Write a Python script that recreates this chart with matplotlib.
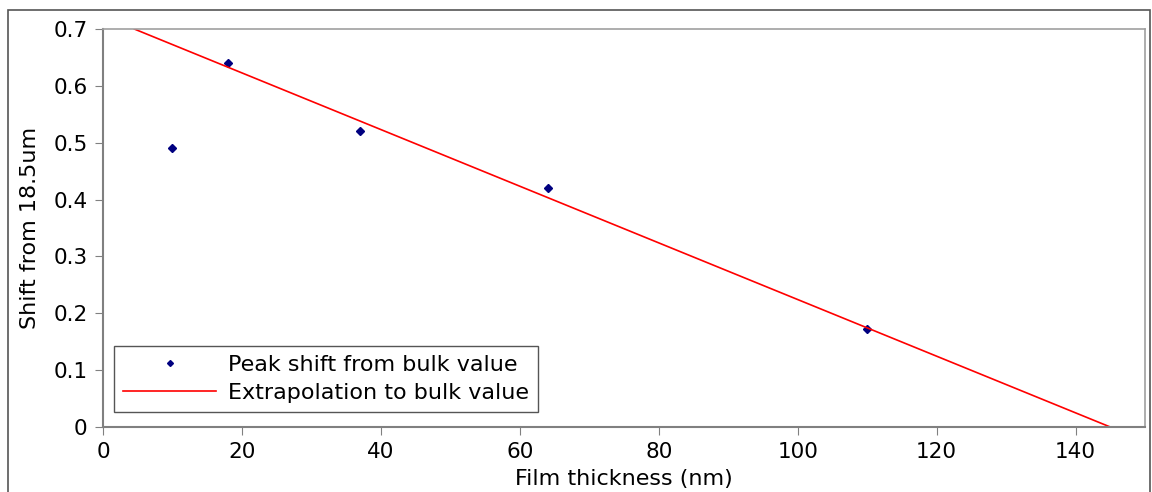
import matplotlib
matplotlib.use("Agg")
import matplotlib.pyplot as plt
from matplotlib.patches import Rectangle

# measured peak shift
thickness = [10, 18, 37, 64, 110]
shift = [0.49, 0.64, 0.52, 0.42, 0.172]

# extrapolation line end points
fit_x = [4.5, 145]
fit_y = [0.70, 0.0]

plt.rcParams['font.family'] = 'DejaVu Sans'

fig = plt.figure(figsize=(11.52, 4.92), dpi=100)
ax = fig.add_axes([103/1152, 1 - 427/492, (1145-103)/1152, (427-29)/492])

# outer frame of the figure
fig.patches.append(Rectangle((8/1152, -0.05), (1150-8)/1152, 1 - 10/492 + 0.05,
                             transform=fig.transFigure, fill=False,
                             edgecolor='#555555', linewidth=1.2))

ax.plot(thickness, shift, linestyle='none', marker='D', markersize=4,
        color='#000080', label='Peak shift from bulk value')
ax.plot(fit_x, fit_y, color='#ff0000', linewidth=1.2,
        label='Extrapolation to bulk value')

ax.set_xlim(0, 150)
ax.set_ylim(0, 0.7)
ax.set_xticks(range(0, 141, 20))
ax.set_yticks([0, 0.1, 0.2, 0.3, 0.4, 0.5, 0.6, 0.7])
ax.set_yticklabels(['0', '0.1', '0.2', '0.3', '0.4', '0.5', '0.6', '0.7'])

for s in ['left', 'bottom']:
    ax.spines[s].set_color('#808080')
    ax.spines[s].set_linewidth(1.5)
for s in ['top', 'right']:
    ax.spines[s].set_color('#a0a0a0')
    ax.spines[s].set_linewidth(1.2)
ax.tick_params(length=6, color='#808080', labelsize=15.5, pad=5)

ax.set_xlabel('Film thickness (nm)', fontsize=16, labelpad=5)
ax.set_ylabel('Shift from 18.5um', fontsize=16, labelpad=10)

leg = ax.legend(loc='lower left', fontsize=16, fancybox=False,
                framealpha=1, edgecolor='#555555',
                bbox_to_anchor=(11/1042, 15/398), borderaxespad=0,
                handlelength=4.2, handletextpad=0.55, labelspacing=0.38,
                markerscale=0.75, borderpad=0.4)
leg.get_frame().set_linewidth(1.0)

fig.savefig('out.png', dpi=100)
